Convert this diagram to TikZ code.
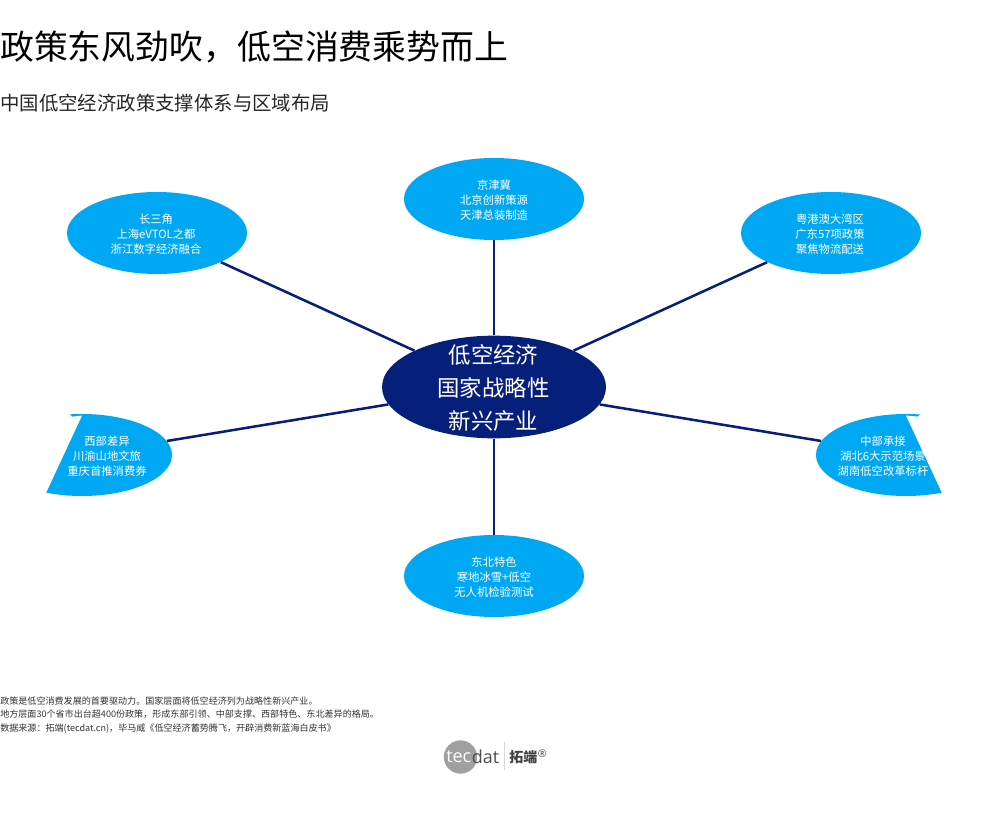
\documentclass[tikz,border=0pt]{standalone}
\usepackage{fontspec}
\setmainfont{Noto Sans CJK SC}
\newfontfamily\logofont{Open Sans}
\usetikzlibrary{positioning, shapes.geometric}
\definecolor{leafblue}{RGB}{0,168,243}
\definecolor{hubblue}{RGB}{6,31,122}
\definecolor{logogray}{RGB}{160,160,160}
\definecolor{notegray}{RGB}{50,50,50}

\begin{document}
\begin{tikzpicture}[
    x=0.75pt, y=-0.75pt,
    hub/.style={ellipse, fill=hubblue, inner sep=0pt, minimum width=168pt, minimum height=77pt},
    hubtext/.style={text=white, align=center, font=\fontsize{16.8}{24.75}\selectfont},
    leaf/.style={ellipse, fill=leafblue, inner sep=0pt, minimum width=135pt, minimum height=61.5pt},
    leaftext/.style={text=white, align=center, font=\fontsize{8.5}{11.25}\selectfont},
    spoke/.style={draw=hubblue, line width=1.9pt},
    title/.style={anchor=west, inner sep=0pt, font=\fontsize{25.4}{30}\selectfont},
    subtitle/.style={anchor=west, inner sep=0pt, text=black!85, font=\fontsize{14.55}{18}\selectfont},
    note/.style={anchor=north west, inner sep=0pt, align=left, text=notegray, font=\fontsize{6.8}{10.1}\selectfont}
  ]
    \useasboundingbox (0,0) rectangle (989,824);

    % Headings
    \node[title] (head) at (0,47) {政策东风劲吹，低空消费乘势而上};
    \node[subtitle] (subhead) at (0,103) {中国低空经济政策支撑体系与区域布局};

    % Centre of the wheel
    \node[hub] (hub) at (494,387) {};
    \node[hubtext] (hubtext) at (493.5,388) {低空经济\\国家战略性\\新兴产业};

    % Regions around it
    \node[leaf] (north) at (494,199) {};
    \node[leaf] (delta) at (157,233) {};
    \node[leaf] (bay) at (831,233) {};
    \node[leaf] (west) at (82,455) {};
    \node[leaf] (middle) at (906,455) {};
    \node[leaf] (northeast) at (494,576) {};

    % White wedges cut the two outer regions
    \fill[white] (82,415.6) -- (72,416.6) -- (68,413) -- (-20,413) -- (-20,500) -- (44,500) -- (46,493) -- cycle;
    \fill[white] (906,415.6) -- (918,416.6) -- (922,413) -- (1000,413) -- (1000,500) -- (944,500) -- (942,493) -- cycle;

    % Region texts
    \node[leaftext] (northtext) at (494,200) {京津冀\\北京创新策源\\天津总装制造};
    \node[leaftext] (deltatext) at (156,234) {长三角\\上海eVTOL之都\\浙江数字经济融合};
    \node[leaftext] (baytext) at (830,234) {粤港澳大湾区\\广东57项政策\\聚焦物流配送};
    \node[leaftext] (westtext) at (107,456) {西部差异\\川渝山地文旅\\重庆首推消费券};
    \node[leaftext] (middletext) at (883,456) {中部承接\\湖北6大示范场景\\湖南低空改革标杆};
    \node[leaftext] (northeasttext) at (494,577) {东北特色\\寒地冰雪+低空\\无人机检验测试};

    % Spokes
    \draw[spoke] (hub) -- (north);
    \draw[spoke] (hub) -- (delta);
    \draw[spoke] (hub) -- (bay);
    \draw[spoke] (hub) -- (west);
    \draw[spoke] (hub) -- (middle);
    \draw[spoke] (hub) -- (northeast);

    % Footnote
    \node[note] (footnote) at (0,696.5) {政策是低空消费发展的首要驱动力。国家层面将低空经济列为战略性新兴产业。\\
      地方层面30个省市出台超400份政策，形成东部引领、中部支撑、西部特色、东北差异的格局。\\
      数据来源：拓端(tecdat.cn)，毕马威《低空经济蓄势腾飞，开辟消费新蓝海白皮书》};

    % Logo
    \node[circle, fill=logogray, minimum size=25pt, inner sep=0pt] (badge) at (460.5,757) {};
    \node[anchor=west, inner sep=0pt, text=white, font=\logofont\fontsize{13.5}{16}\selectfont] (tec) at (446,756.5) {tec};
    \node[right=0pt of tec, inner sep=0pt, text=black!70, font=\logofont\fontsize{13.5}{16}\selectfont] (dat) {dat};
    \coordinate (bartop) at (504,742);
    \coordinate (barbottom) at (504,770);
    \draw[black!15, line width=0.6pt] (bartop) -- (barbottom);
    \node[anchor=west, inner sep=0pt, text=black!75, font=\bfseries\fontsize{10.5}{12}\selectfont] (brand) at (509,757) {拓端};
    \node[anchor=west, inner sep=0pt, text=black!70, font=\logofont\fontsize{8}{9}\selectfont] (mark) at (537.5,754) {®};
\end{tikzpicture}
\end{document}
